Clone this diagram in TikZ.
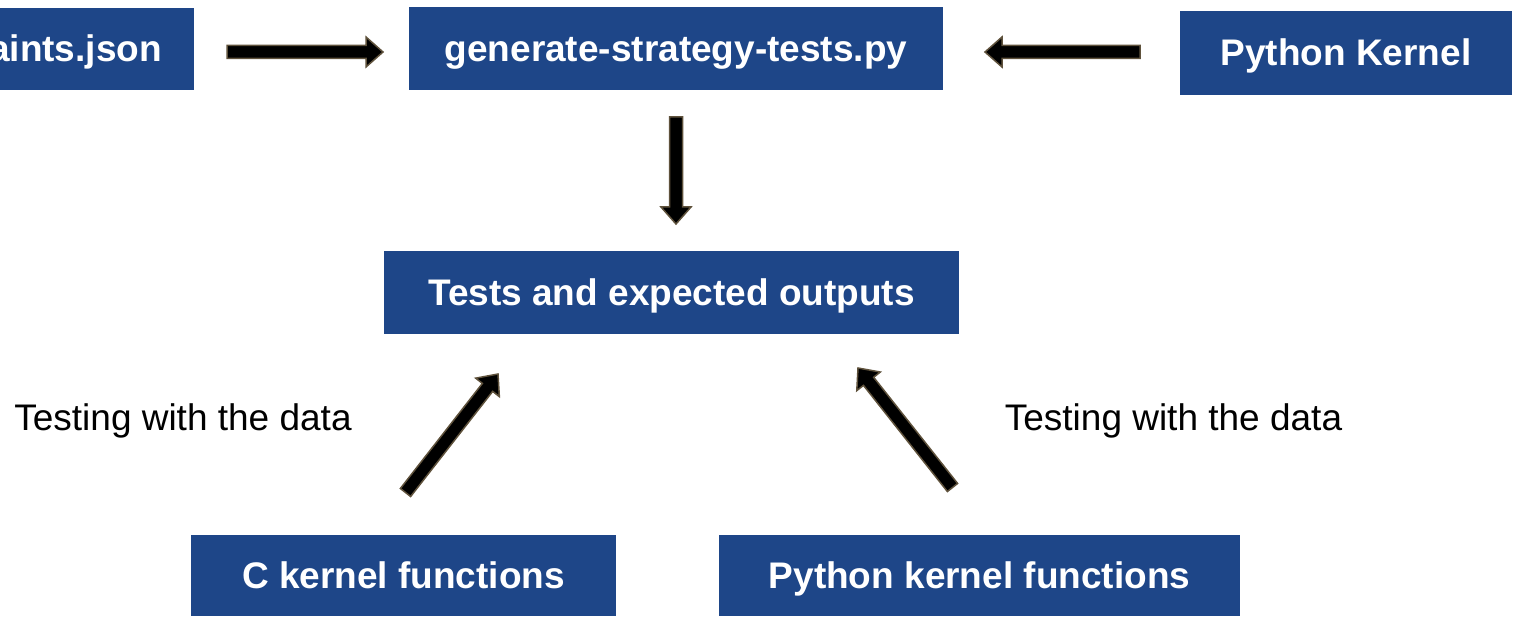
\documentclass[tikz,border=0pt]{standalone}
\usepackage{fontspec}
\setmainfont{Liberation Sans}
\usetikzlibrary{calc}
\definecolor{boxblue}{RGB}{30,70,136}
\definecolor{arrowedge}{RGB}{95,82,60}
\tikzset{
  box/.style={fill=boxblue, text=white, inner sep=0pt, font=\fontsize{37}{44}\selectfont\bfseries, text height=33.5pt, text depth=7.8pt, anchor=center},
  lbl/.style={inner sep=0pt, font=\fontsize{37}{44}\selectfont, text height=33.5pt, text depth=7.8pt, anchor=center},
  blockarrow/.style={fill=black, draw=arrowedge, line width=1.5pt, line join=miter}
}
\newcommand\blockarr[2]{%
  \coordinate (ba-h) at ($(#2)!17pt!(#1)$);
  \filldraw[blockarrow] ($(#1)!6.5pt!90:(#2)$) -- ($(ba-h)!6.5pt!90:(#2)$) -- ($(ba-h)!15pt!90:(#2)$) -- (#2) -- ($(ba-h)!15pt!-90:(#2)$) -- ($(ba-h)!6.5pt!-90:(#2)$) -- ($(#1)!6.5pt!-90:(#2)$) -- cycle;
}
\begin{document}
\begin{tikzpicture}[x=1pt,y=-1pt]
\useasboundingbox (0,0) rectangle (1513,617);
\clip (0,0) rectangle (1513,617);
% boxes
\node[box, minimum width=350pt, minimum height=82pt] (json) at (19,49) {constraints.json};
\node[box, minimum width=534pt, minimum height=83pt] (gen) at (676,48.5) {generate-strategy-tests.py};
\node[box, minimum width=332pt, minimum height=84pt] (pk) at (1346,53) {Python Kernel};
\node[box, minimum width=575pt, minimum height=83pt] (tests) at (671.5,292.5) {Tests and expected outputs};
\node[box, minimum width=425pt, minimum height=81pt] (ck) at (403.5,575.5) {C kernel functions};
\node[box, minimum width=521pt, minimum height=81pt] (pkf) at (979.5,575.5) {Python kernel functions};
% labels
\node[lbl] (lblL) at (183,418) {Testing with the data};
\node[lbl] (lblR) at (1173.5,418) {Testing with the data};
% arrow end points
\coordinate (a1s) at (227,52);   \coordinate (a1e) at (383,52);
\coordinate (a2s) at (1140,52);  \coordinate (a2e) at (985,52);
\coordinate (a3s) at (676,117);  \coordinate (a3e) at (676,224);
\coordinate (a4s) at (405.5,492.5); \coordinate (a4e) at (498,374);
\coordinate (a5s) at (952.5,487.5); \coordinate (a5e) at (858,368);
\blockarr{a1s}{a1e}
\blockarr{a2s}{a2e}
\blockarr{a3s}{a3e}
\blockarr{a4s}{a4e}
\blockarr{a5s}{a5e}
\end{tikzpicture}
\end{document}
